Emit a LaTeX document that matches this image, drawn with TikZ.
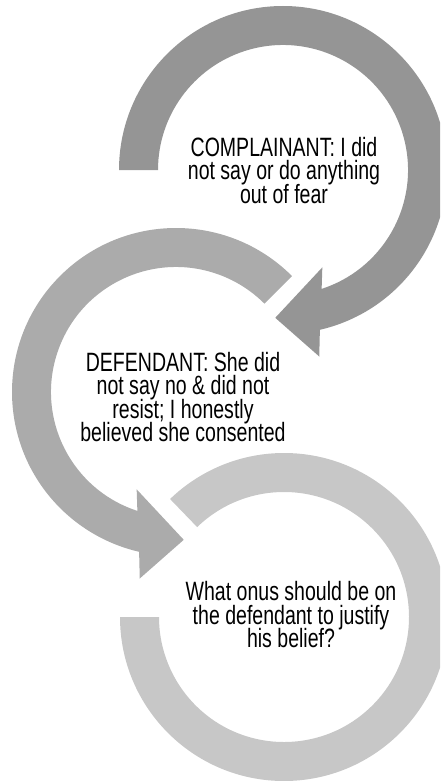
\documentclass[tikz,border=0pt]{standalone}
\usepackage{fontspec}
\setmainfont{Liberation Sans}
\newfontfamily\narrowsans[FakeStretch=0.737]{Liberation Sans}
\newcommand\saysfont{\narrowsans\fontsize{26.5}{23.4}\selectfont\lineskiplimit=-50pt\relax}
\usetikzlibrary{calc}
\definecolor{ringdark}{RGB}{149,149,149}
\definecolor{ringmid}{RGB}{171,171,171}
\definecolor{ringlight}{RGB}{199,199,199}

\begin{document}
\begin{tikzpicture}[x=1pt, y=1pt,
    says/.style={align=center, inner sep=0pt, font=\saysfont}]
  \useasboundingbox (0,0) rectangle (440,-781);
  \clip (0,0) rectangle (440,-781);
  \coordinate (c1) at (283,-170);
  \coordinate (c2) at (176,-392);
  \coordinate (c3) at (284,-617);

  % last ring, open at the upper left
  \fill[ringlight] ($(c3)+(-180:164)$) arc[start angle=-180, end angle=134, radius=164]
        -- ($(c3)+(134:125)$) arc[start angle=134, end angle=-180, radius=125] -- cycle;
  % middle ring, head pointing right
  \fill[ringmid] ($(c2)+(45:164)$) arc[start angle=45, end angle=257, radius=164]
        -- ($(c2)+(259:190)$) -- ($(c2)+(273:148)$) -- ($(c2)+(248:105)$)
        -- ($(c2)+(252:125)$) arc[start angle=252, end angle=45, radius=125] -- cycle;
  % first ring, head pointing left
  \fill[ringdark] ($(c1)+(180:164)$) arc[start angle=180, end angle=-77, radius=164]
        -- ($(c1)+(-79:190)$) -- ($(c1)+(-93:148)$) -- ($(c1)+(-68:105)$)
        -- ($(c1)+(-72:125)$) arc[start angle=-72, end angle=180, radius=125] -- cycle;

  \node[says] (complainant) at (284,-170.4) {COMPLAINANT: I did\\not say or do anything\\out of fear};
  \node[says] (defendant)   at (183,-397.2) {DEFENDANT: She did\\not say no \& did not\\resist; I honestly\\believed she consented};
  \node[says] (onus)        at (291,-614.7) {What onus should be on\\the defendant to justify\\his belief?};
\end{tikzpicture}
\end{document}
